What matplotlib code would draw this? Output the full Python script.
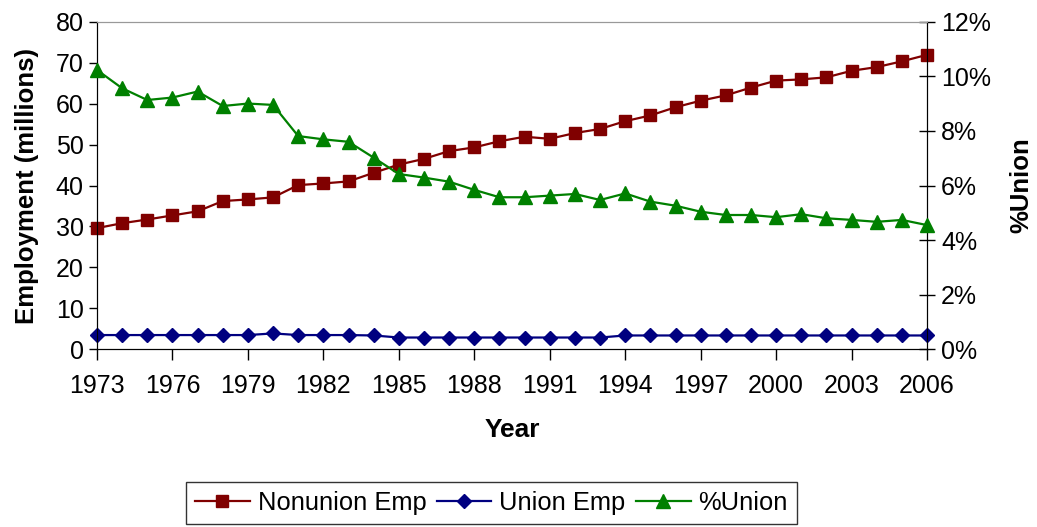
import matplotlib
matplotlib.use('Agg')
import matplotlib.pyplot as plt
from matplotlib.ticker import FuncFormatter

plt.rcParams['font.family'] = ['Liberation Sans', 'DejaVu Sans']

years = list(range(1973, 2007))
nonunion = [29.6, 30.8, 31.7, 32.7, 33.7, 36.2, 36.6, 37.1, 40.1, 40.5, 41.0, 43.1,
            45.1, 46.5, 48.4, 49.3, 50.8, 51.9, 51.4, 52.8, 53.8, 55.7, 57.1, 59.1,
            60.7, 62.0, 63.9, 65.6, 65.9, 66.4, 68.0, 68.9, 70.3, 71.9]
union = [3.5, 3.5, 3.5, 3.5, 3.5, 3.5, 3.5, 3.9, 3.5, 3.5, 3.5, 3.4,
         2.9, 2.9, 2.9, 2.9, 2.9, 2.9, 2.9, 2.9, 2.9, 3.4, 3.4, 3.4,
         3.4, 3.4, 3.4, 3.4, 3.4, 3.4, 3.4, 3.4, 3.4, 3.4]
pct_union = [10.23, 9.56, 9.13, 9.22, 9.44, 8.91, 9.0, 8.95, 7.81, 7.69, 7.6, 7.02,
             6.42, 6.29, 6.14, 5.84, 5.57, 5.57, 5.63, 5.69, 5.47, 5.71, 5.41, 5.26,
             5.04, 4.92, 4.92, 4.84, 4.95, 4.80, 4.74, 4.67, 4.74, 4.55]
xticks = list(range(1973, 2007, 3))

fig = plt.figure(figsize=(10.37, 5.27), dpi=100)
ax = fig.add_axes([0.0935, 0.337, 0.8005, 0.622])
ax2 = ax.twinx()

l1, = ax.plot(years, nonunion, color='#800000', marker='s', markersize=8.5, lw=1.6,
              clip_on=False, zorder=3, label='Nonunion Emp')
l2, = ax.plot(years, union, color='#000080', marker='D', markersize=7.5, lw=1.6,
              clip_on=False, zorder=3, label='Union Emp')
l3, = ax2.plot(years, pct_union, color='#008000', marker='^', markersize=10, lw=1.6,
               clip_on=False, zorder=3, label='%Union')

ax.set_xlim(1973, 2006)
ax.set_ylim(0, 80)
ax2.set_ylim(0, 12)
ax.set_xticks(xticks)
ax.set_yticks(range(0, 81, 10))
ax2.set_yticks(range(0, 13, 2))
ax2.yaxis.set_major_formatter(FuncFormatter(lambda v, p: '%d%%' % v))

for a in (ax, ax2):
    a.spines['top'].set_color('#999999')
    a.spines['left'].set_color('black')
    a.spines['right'].set_color('black')
    a.spines['bottom'].set_color('black')
ax.tick_params(axis='both', labelsize=18, direction='out', length=6, width=1)
ax.tick_params(axis='x', length=8, pad=10)
ax2.tick_params(axis='y', labelsize=18, direction='inout', length=12, width=1, pad=4)

ax.set_xlabel('Year', fontsize=19, fontweight='bold', labelpad=14)
ax.set_ylabel('Employment (millions)', fontsize=18.5, fontweight='bold', labelpad=12)
ax2.set_ylabel('%Union', fontsize=18.5, fontweight='bold', labelpad=13)

leg = fig.legend(handles=[l1, l2, l3], loc='upper left',
                 bbox_to_anchor=(186 / 1037, 1 - 482 / 527),
                 ncol=3, fontsize=18.4, frameon=True, fancybox=False, edgecolor='black',
                 handlelength=2.15, handletextpad=0.3, columnspacing=0.4,
                 borderpad=0.35, borderaxespad=0)
leg.get_frame().set_linewidth(1)

fig.savefig('out.png', dpi=100, facecolor='white')
